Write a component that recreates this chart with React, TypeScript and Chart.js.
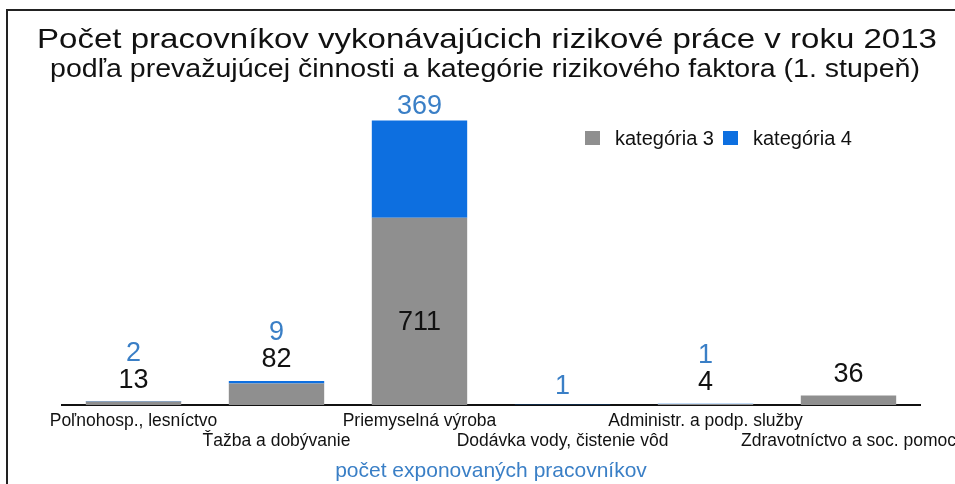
import React, { useEffect, useRef } from "react";
import { Chart, registerables } from "chart.js";

Chart.register(...registerables);

const categories = [
  "Poľnohosp., lesníctvo",
  "Ťažba a dobývanie",
  "Priemyselná výroba",
  "Dodávka vody, čistenie vôd",
  "Administr. a podp. služby",
  "Zdravotníctvo a soc. pomoc",
];
const kategoria3 = [13, 82, 711, 0, 4, 36];
const kategoria4 = [2, 9, 369, 1, 1, 0];
const seriesNames = ["kategória 3", "kategória 4"];
const titleText = "Počet pracovníkov vykonávajúcich rizikové práce v roku 2013";
const subtitleText = "podľa prevažujúcej činnosti a kategórie rizikového faktora (1. stupeň)";
const axisTitle = "počet exponovaných pracovníkov";

const GRAY = "#8f8f8f";
const BLUE = "#0d6fe0";
const LABEL_BLUE = "#3a7fc6";
const FONT = "'Liberation Sans', Arial, sans-serif";

function stretchedText(ctx: CanvasRenderingContext2D, text: string, cx: number, baseline: number, targetWidth: number) {
  const w = ctx.measureText(text).width;
  const s = targetWidth / w;
  ctx.save();
  ctx.translate(cx, baseline);
  ctx.scale(s, 1);
  ctx.textAlign = "center";
  ctx.textBaseline = "alphabetic";
  ctx.fillText(text, 0, 0);
  ctx.restore();
}

const decorPlugin = {
  id: "decor",
  beforeDraw(chart: any) {
    const ctx = chart.ctx;
    ctx.save();
    ctx.fillStyle = "#ffffff";
    ctx.fillRect(0, 0, chart.width, chart.height);
    ctx.strokeStyle = "#222";
    ctx.lineWidth = 2;
    ctx.beginPath();
    ctx.moveTo(7, chart.height);
    ctx.lineTo(7, 10);
    ctx.lineTo(chart.width, 10);
    ctx.stroke();
    ctx.restore();
  },
  afterDraw(chart: any) {
    const ctx = chart.ctx;
    ctx.save();
    ctx.fillStyle = "#111";
    ctx.font = `28px ${FONT}`;
    stretchedText(ctx, titleText, 487, 48, 900);
    ctx.font = `25px ${FONT}`;
    stretchedText(ctx, subtitleText, 485, 77, 870);

    // legend
    ctx.font = `20px ${FONT}`;
    ctx.textAlign = "left";
    ctx.textBaseline = "middle";
    const items = [
      { name: seriesNames[0], color: GRAY, x: 585 },
      { name: seriesNames[1], color: BLUE, x: 723 },
    ];
    items.forEach((it) => {
      ctx.fillStyle = it.color;
      ctx.fillRect(it.x, 131, 15, 14);
      ctx.fillStyle = "#111";
      ctx.fillText(it.name, it.x + 30, 139);
    });

    // value labels
    const m0 = chart.getDatasetMeta(0);
    const m1 = chart.getDatasetMeta(1);
    ctx.textAlign = "center";
    ctx.textBaseline = "middle";
    ctx.font = `27px ${FONT}`;
    categories.forEach((_, i) => {
      const v3 = kategoria3[i];
      const v4 = kategoria4[i];
      const b0 = m0.data[i] as any;
      const b1 = m1.data[i] as any;
      const top = Math.min(v3 > 0 ? b0.y : Infinity, v4 > 0 ? b1.y : Infinity, b0.base);
      let y3: number | null = null;
      if (v3 > 0) {
        const h = b0.base - b0.y;
        ctx.fillStyle = "#111";
        if (h > 60) {
          ctx.fillText(String(v3), b0.x, (b0.y + b0.base) / 2 + 11);
        } else {
          y3 = top - 21;
          ctx.fillText(String(v3), b0.x, y3);
        }
      }
      if (v4 > 0) {
        const h = b1.base - b1.y;
        ctx.fillStyle = LABEL_BLUE;
        let y4: number;
        if (h > 60) y4 = b1.y - 14;
        else if (y3 !== null) y4 = y3 - 27;
        else y4 = top - 18;
        ctx.fillText(String(v4), b1.x, y4);
      }
    });
    ctx.restore();
  },
};

export default function App() {
  const ref = useRef<HTMLCanvasElement>(null);
  useEffect(() => {
    document.body.style.margin = "0";
    const chart = new Chart(ref.current!, {
      type: "bar",
      data: {
        labels: categories,
        datasets: [
          { label: seriesNames[0], data: kategoria3, backgroundColor: GRAY },
          { label: seriesNames[1], data: kategoria4, backgroundColor: BLUE },
        ],
      },
      options: {
        animation: false,
        responsive: false,
        maintainAspectRatio: false,
        layout: { padding: { top: 89, left: 62, right: 35, bottom: 0 } },
        datasets: { bar: { categoryPercentage: 0.667, barPercentage: 1 } },
        plugins: {
          legend: { display: false },
          title: { display: false },
          tooltip: { enabled: false },
        },
        scales: {
          x: {
            stacked: true,
            grid: { display: false, drawTicks: false },
            border: { display: true, color: "#111", width: 2 },
            ticks: {
              autoSkip: false,
              maxRotation: 0,
              minRotation: 0,
              padding: 6,
              color: "#111",
              font: { family: FONT, size: 17.5, lineHeight: 1.15 },
              callback: (_v: any, i: number) => (i % 2 === 0 ? [categories[i], ""] : ["", categories[i]]),
            },
            title: {
              display: true,
              text: axisTitle,
              color: LABEL_BLUE,
              font: { family: FONT, size: 21 },
              padding: { top: 0, bottom: 0 },
            },
            afterFit: (scale: any) => {
              scale.height = 79;
              scale.paddingLeft = 0;
              scale.paddingRight = 0;
            },
          },
          y: {
            stacked: true,
            display: false,
            min: 0,
            max: 1200,
          },
        },
      },
      plugins: [decorPlugin],
    });
    return () => chart.destroy();
  }, []);
  return (
    <div style={{ position: "relative", width: 955, height: 484 }}>
      <canvas ref={ref} width={955} height={484} style={{ display: "block" }} />
    </div>
  );
}
